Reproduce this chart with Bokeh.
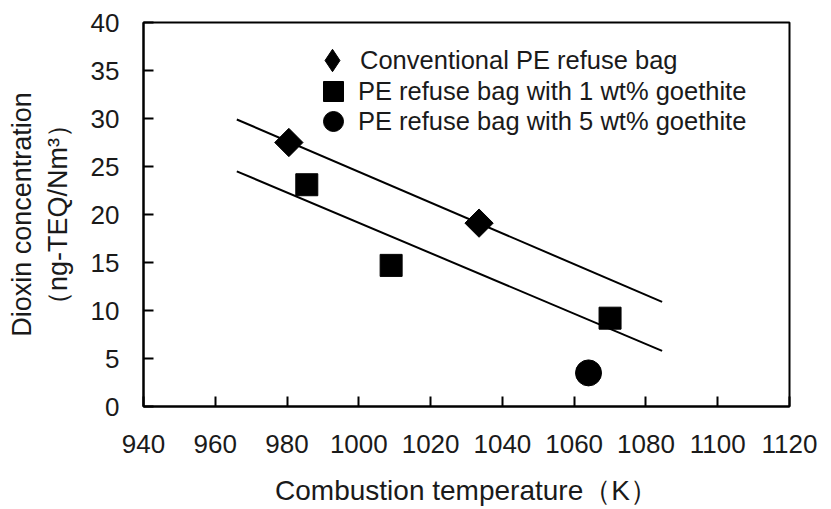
import math
from bokeh.plotting import figure
from bokeh.models import Range1d, FixedTicker, Legend, LegendItem
from bokeh.embed import file_html
from bokeh.resources import INLINE

# ---- data ----
conv_x = [980.5, 1033.5]
conv_y = [27.5, 19.1]
g1_x = [985.5, 1009, 1070]
g1_y = [23.1, 14.7, 9.2]
g5_x = [1064]
g5_y = [3.5]
fit_conv_x = [966, 1084.5]
fit_conv_y = [29.9, 10.9]
fit_g1_x = [966, 1084.5]
fit_g1_y = [24.5, 5.8]
x_ticks = [940, 960, 980, 1000, 1020, 1040, 1060, 1080, 1100, 1120]
y_ticks = [0, 5, 10, 15, 20, 25, 30, 35, 40]
legend_labels = ["Conventional PE refuse bag",
                 "PE refuse bag with 1 wt% goethite",
                 "PE refuse bag with 5 wt% goethite"]

FONT = "Liberation Sans"
TXT = "#1a1a1a"

p = figure(width=831, height=509, output_backend="svg", toolbar_location=None,
           x_range=Range1d(940, 1120), y_range=Range1d(0, 40),
           min_border_left=143, min_border_right=42, min_border_top=22, min_border_bottom=103)
p.background_fill_color = "white"
p.border_fill_color = "white"
p.xgrid.visible = False
p.ygrid.visible = False
p.outline_line_color = "black"
p.outline_line_width = 2

for ax in (p.xaxis[0], p.yaxis[0]):
    ax.axis_line_color = "black"
    ax.axis_line_width = 2
    ax.major_tick_line_color = "black"
    ax.major_tick_line_width = 2
    ax.major_tick_in = 10
    ax.major_tick_out = 0
    ax.minor_tick_line_color = None
    ax.major_label_text_font = FONT
    ax.major_label_text_font_size = "26px"
    ax.major_label_text_color = TXT
    ax.axis_label_text_font = FONT
    ax.axis_label_text_font_style = "normal"
    ax.axis_label_text_color = TXT

p.xaxis.ticker = FixedTicker(ticks=x_ticks)
p.yaxis.ticker = FixedTicker(ticks=y_ticks)
p.xaxis.major_label_standoff = 28
p.yaxis.major_label_standoff = 24
p.xaxis.axis_label = "Combustion temperature（K）"
p.yaxis.axis_label = "Dioxin concentration\n（ng-TEQ/Nm³）"
p.xaxis.axis_label_text_font_size = "28px"
p.yaxis.axis_label_text_font_size = "27px"
p.xaxis.axis_label_standoff = 19
p.yaxis.axis_label_standoff = 15

p.line(fit_conv_x, fit_conv_y, line_color="black", line_width=2)
p.line(fit_g1_x, fit_g1_y, line_color="black", line_width=2)

r_conv = p.scatter(conv_x, conv_y, marker="square", size=20, angle=math.pi / 4,
                   fill_color="black", line_color="black")
r_g1 = p.scatter(g1_x, g1_y, marker="square", size=22,
                 fill_color="black", line_color="black")
r_g5 = p.scatter(g5_x, g5_y, marker="circle", size=26,
                 fill_color="black", line_color="black")
# legend key for the diamonds (legend keys ignore marker angle); hidden in the plot
r_conv_key = p.scatter(conv_x, conv_y, marker="diamond", fill_color="black",
                       line_color="black", visible=False)

specs = [
    (legend_labels[0], r_conv_key, 56, (161, 318)),
    (legend_labels[1], r_g1, 50, (165, 290)),
    (legend_labels[2], r_g5, 50, (165, 260)),
]
for lab, rr, gsz, loc in specs:
    lg = Legend(items=[LegendItem(label=lab, renderers=[rr])], location=loc)
    lg.glyph_width = gsz
    lg.glyph_height = gsz
    lg.label_height = 30
    lg.label_standoff = 0
    lg.padding = 0
    lg.margin = 0
    lg.border_line_color = None
    lg.background_fill_alpha = 0
    lg.inactive_fill_alpha = 0
    lg.label_text_font = FONT
    lg.label_text_font_size = "25.5px"
    lg.label_text_color = TXT
    p.add_layout(lg, "center")

open("out.html", "w").write(file_html(p, INLINE))
